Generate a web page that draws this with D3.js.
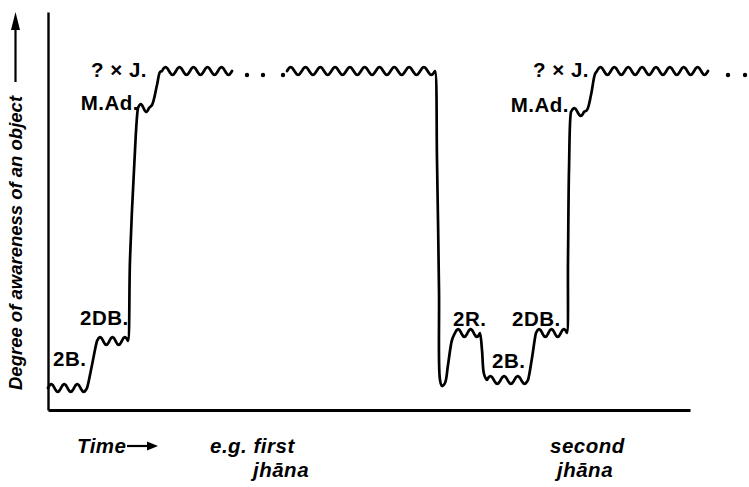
<!DOCTYPE html>
<html>
<head>
<meta charset="utf-8">
<script src="https://cdn.jsdelivr.net/npm/d3@7"></script>
<style>
  html, body { margin: 0; padding: 0; background: #fff; }
  svg { display: block; }
  .lbl { font-family: "Liberation Sans", Arial, Helvetica, sans-serif; font-weight: bold; font-size: 20.5px; letter-spacing: 0.5px; fill: #000; }
  .ital { font-style: italic; }
  .ytitle { font-size: 18.5px; letter-spacing: 0px; }
</style>
</head>
<body>
<svg id="chart" width="749" height="487"></svg>
<script>
// ---- data (time units along x, awareness units along y, origin at the axes corner) ----
// wavy plateaus: [xStart, xEnd, level, number of humps]
const plateaus = [
  [0, 39, 22, 3],      // 2B.
  [49, 80, 69, 2.5],   // 2DB.
  [90, 101, 302, 1],   // M.Ad.
  [114, 184, 339, 5],  // ? x J.
  [239, 387, 339, 10], // ? x J. (continued)
  [407, 432, 77, 2],   // 2R.
  [439, 480, 30, 3],   // 2B.
  [488, 519, 77, 2.5], // 2DB.
  [523, 536, 298, 1],  // M.Ad.
  [549, 660, 339, 8]   // ? x J.
];
// transitions between consecutive plateaus (intermediate points), null = plateau continues after dots
const transitions = [
  [[44, 45]],
  [[82, 150], [86, 240]],
  [[104, 305], [109, 325], [112, 338]],
  null,
  [[389, 250], [391, 120], [392, 30], [394, 24], [397, 27], [400, 45], [404, 70]],
  [[434, 60], [436, 36]],
  [[484, 52]],
  [[520, 150], [521, 240]],
  [[539, 300], [543, 315], [547, 336]]
];
// ellipsis dots
const dotsX = [199, 215, 235, 680, 697];
const dotsLevel = 335;
// labels: [text, x, y, anchor]
const stageLabels = [
  ["2B.", 5, 44, "start"],
  ["2DB.", 32, 85, "start"],
  ["M.Ad.", 91, 300, "end"],
  ["? \u00d7 J.", 99, 333, "end"],
  ["2R.", 405, 84, "start"],
  ["2B.", 444, 42, "start"],
  ["2DB.", 464, 84, "start"],
  ["M.Ad.", 521, 298, "end"],
  ["? \u00d7 J.", 541, 333, "end"]
];
const xAxisTitle = "Time";
const yAxisTitle = "Degree of awareness of an object";
const periodLabels = [["e.g. first", "jh\u0101na", 162, 205], ["second", "jh\u0101na", 502, 509]];

// ---- scales ----
const svg = d3.select("#chart");
const x = d3.scaleLinear().domain([0, 642]).range([48, 690]);
const y = d3.scaleLinear().domain([0, 398]).range([410, 12]);

// ---- axes ----
const gx = svg.append("g").attr("transform", `translate(0,${y(0)})`)
  .call(d3.axisBottom(x).tickValues([]).tickSizeOuter(0));
gx.select(".domain").attr("stroke", "#000").attr("stroke-width", 3);
const gy = svg.append("g").attr("transform", `translate(${x(0)},0)`)
  .call(d3.axisLeft(y).tickValues([]).tickSizeOuter(0));
gy.select(".domain").attr("stroke", "#000").attr("stroke-width", 2.4);

// ---- build the trace ----
function wavePoints(p) {
  const [x0, x1, lvl, humps] = p;
  const amp = 3.8;
  const n = Math.max(8, Math.round(humps * 14));
  const pts = [];
  for (let i = 0; i <= n; i++) {
    const t = i / n;
    pts.push([x0 + (x1 - x0) * t, lvl + amp * Math.sin(2 * Math.PI * humps * t)]);
  }
  return pts;
}
const line = d3.line().x(d => x(d[0])).y(d => y(d[1])).curve(d3.curveCatmullRom.alpha(0.5));
let current = [];
const pieces = [];
plateaus.forEach((p, i) => {
  current = current.concat(wavePoints(p));
  const tr = transitions[i];
  if (tr === null || i === plateaus.length - 1) {
    pieces.push(current);
    current = [];
  } else {
    current = current.concat(tr);
  }
});
svg.append("g").selectAll("path").data(pieces).join("path")
  .attr("d", line)
  .attr("fill", "none").attr("stroke", "#000").attr("stroke-width", 2.7)
  .attr("stroke-linejoin", "round").attr("stroke-linecap", "round");

svg.append("g").selectAll("circle").data(dotsX).join("circle")
  .attr("cx", d => x(d)).attr("cy", y(dotsLevel)).attr("r", 2.2).attr("fill", "#000");

// ---- stage labels ----
svg.append("g").selectAll("text").data(stageLabels).join("text")
  .attr("class", "lbl")
  .attr("x", d => x(d[1])).attr("y", d => y(d[2]))
  .attr("text-anchor", d => d[3])
  .text(d => d[0]);

// ---- axis titles ----
svg.append("text").attr("class", "lbl ital ytitle")
  .attr("transform", `translate(22,${y(20)}) rotate(-90)`)
  .text(yAxisTitle);
// y arrow
svg.append("path").attr("d", `M15.5,${y(328)}V${y(381)}`).attr("stroke", "#000").attr("stroke-width", 2.2);
svg.append("path").attr("d", `M15.5,${y(398)}L11,${y(380)}L20,${y(380)}Z`).attr("fill", "#000");

svg.append("text").attr("class", "lbl ital").attr("x", x(29)).attr("y", y(-43)).text(xAxisTitle);
svg.append("path").attr("d", `M${x(79)},${y(-36)}H${x(102)}`).attr("stroke", "#000").attr("stroke-width", 2.2);
svg.append("path").attr("d", `M${x(110)},${y(-36)}L${x(99)},${y(-40.5)}L${x(99)},${y(-31.5)}Z`).attr("fill", "#000");

const pl = svg.append("g").selectAll("g").data(periodLabels).join("g");
pl.append("text").attr("class", "lbl ital").attr("x", d => x(d[2])).attr("y", y(-43)).text(d => d[0]);
pl.append("text").attr("class", "lbl ital").attr("x", d => x(d[3])).attr("y", y(-67)).text(d => d[1]);
</script>
</body>
</html>
